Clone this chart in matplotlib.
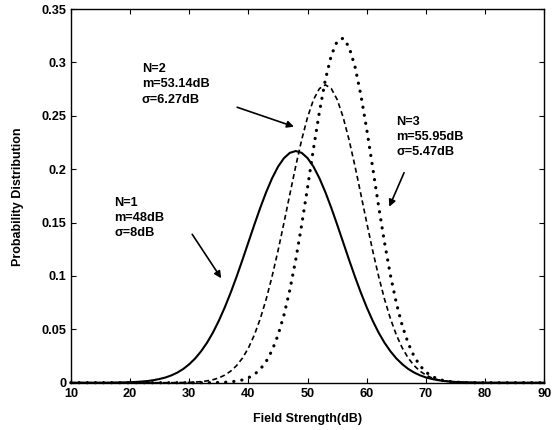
import numpy as np
import matplotlib
matplotlib.use("Agg")
import matplotlib.pyplot as plt

plt.rcParams['font.family'] = ['Liberation Sans', 'DejaVu Sans']
plt.rcParams['font.weight'] = 'bold'

# field strength grid (dB), 1 dB steps
field_db = np.arange(10, 91)

# N=1, m=48dB, sigma=8dB
pdf_n1 = [0, 0, 0, 0, 0, 0, 0, 0.0001, 0.0002, 0.0003,
          0.0005, 0.0007, 0.0011, 0.0016, 0.0024, 0.0035, 0.0049, 0.0069, 0.0095, 0.0129,
          0.0173, 0.0227, 0.0294, 0.0374, 0.0469, 0.0580, 0.0705, 0.0843, 0.0993, 0.1152,
          0.1316, 0.1480, 0.1638, 0.1785, 0.1915, 0.2023, 0.2103, 0.2153, 0.2170, 0.2153,
          0.2103, 0.2023, 0.1915, 0.1785, 0.1638, 0.1480, 0.1316, 0.1152, 0.0993, 0.0843,
          0.0705, 0.0580, 0.0469, 0.0374, 0.0294, 0.0227, 0.0173, 0.0129, 0.0095, 0.0069,
          0.0049, 0.0035, 0.0024, 0.0016, 0.0011, 0.0007, 0.0005, 0.0003, 0.0002, 0.0001,
          0, 0, 0, 0, 0, 0, 0, 0, 0, 0,
          0]

# N=2, m=53.14dB, sigma=6.27dB
pdf_n2 = [0, 0, 0, 0, 0, 0, 0, 0, 0, 0,
          0, 0, 0, 0, 0, 0, 0, 0, 0.0001, 0.0002,
          0.0003, 0.0006, 0.0010, 0.0017, 0.0028, 0.0045, 0.0071, 0.0108, 0.0160, 0.0231,
          0.0325, 0.0447, 0.0599, 0.0782, 0.0996, 0.1236, 0.1496, 0.1765, 0.2030, 0.2276,
          0.2488, 0.2652, 0.2755, 0.2790, 0.2755, 0.2652, 0.2488, 0.2276, 0.2030, 0.1765,
          0.1496, 0.1236, 0.0996, 0.0782, 0.0599, 0.0447, 0.0325, 0.0231, 0.0160, 0.0108,
          0.0071, 0.0045, 0.0028, 0.0017, 0.0010, 0.0006, 0.0003, 0.0002, 0.0001, 0,
          0, 0, 0, 0, 0, 0, 0, 0, 0, 0,
          0]

# N=3, m=55.95dB, sigma=5.47dB
pdf_n3 = [0, 0, 0, 0, 0, 0, 0, 0, 0, 0,
          0, 0, 0, 0, 0, 0, 0, 0, 0, 0,
          0, 0, 0, 0, 0.0001, 0.0002, 0.0004, 0.0008, 0.0015, 0.0026,
          0.0046, 0.0077, 0.0126, 0.0199, 0.0303, 0.0445, 0.0633, 0.0869, 0.1153, 0.1479,
          0.1832, 0.2194, 0.2538, 0.2837, 0.3065, 0.3199, 0.3227, 0.3145, 0.2962, 0.2695,
          0.2370, 0.2014, 0.1653, 0.1312, 0.1006, 0.0745, 0.0533, 0.0369, 0.0246, 0.0159,
          0.0099, 0.0060, 0.0035, 0.0020, 0.0011, 0.0006, 0.0003, 0.0001, 0, 0,
          0, 0, 0, 0, 0, 0, 0, 0, 0, 0,
          0]

x_ticks = [10, 20, 30, 40, 50, 60, 70, 80, 90]
y_ticks = [0, 0.05, 0.1, 0.15, 0.2, 0.25, 0.3, 0.35]
y_tick_labels = ['0', '0.05', '0.1', '0.15', '0.2', '0.25', '0.3', '0.35']

fig = plt.figure(figsize=(5.52, 4.30), dpi=100)
ax = fig.add_axes([0.1284, 0.110, 0.8577, 0.869])

ax.plot(field_db, pdf_n1, color='k', lw=1.5, clip_on=False)
ax.plot(field_db, pdf_n2, color='k', lw=1.2, dashes=(3.0, 2.0), clip_on=False)
ax.plot(field_db, pdf_n3, color='k', lw=2.3, dashes=(0.05, 2.5),
        dash_capstyle='round', clip_on=False)

ax.set_xlim(10, 90)
ax.set_ylim(0, 0.35)
ax.set_xticks(x_ticks)
ax.set_yticks(y_ticks)
ax.set_yticklabels(y_tick_labels)
ax.tick_params(direction='in', top=True, right=True, length=3.6, width=0.8,
               labelsize=9.2)
ax.tick_params(axis='x', pad=4)
ax.tick_params(axis='y', pad=3)
for sp in ax.spines.values():
    sp.set_linewidth(1.0)

fig.text(307.6 / 552, 1 - 419 / 430, 'Field Strength(dB)', ha='center', va='center',
         fontsize=9, fontweight='bold')
fig.text(18 / 552, 1 - 197 / 430, 'Probability Distribution', ha='center', va='center',
         rotation=90, fontsize=9, fontweight='bold')

# annotations
def block(x, y0, lines, dy=0.0143):
    for i, s in enumerate(lines):
        ax.text(x, y0 - i * dy, s, ha='left', va='center', fontsize=9.2, fontweight='bold')

block(22.0, 0.2937, ['N=2', 'm=53.14dB', '\u03c3=6.27dB'])
block(17.3, 0.1686, ['N=1', 'm=48dB', '\u03c3=8dB'])
block(65.0, 0.2445, ['N=3', 'm=55.95dB', '\u03c3=5.47dB'])

arrow = dict(arrowstyle='-|>', lw=1.2, color='k', mutation_scale=10, shrinkA=0, shrinkB=0)
ax.annotate('', xy=(47.7, 0.2398), xytext=(38.1, 0.258), arrowprops=arrow)
ax.annotate('', xy=(35.4, 0.0978), xytext=(30.5, 0.139), arrowprops=arrow)
ax.annotate('', xy=(63.8, 0.1648), xytext=(66.3, 0.1967), arrowprops=arrow)

fig.savefig('out.png', dpi=100)
